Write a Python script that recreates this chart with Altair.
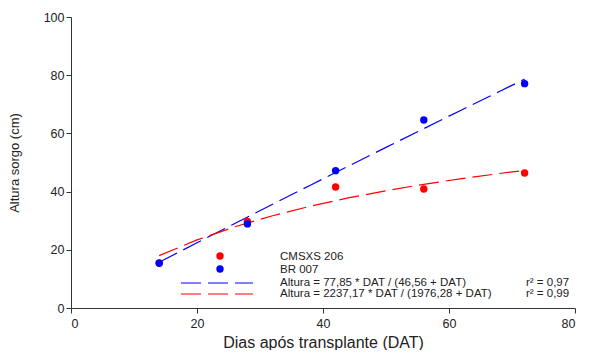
import altair as alt
import pandas as pd

# ---- data ----
dat = [14, 28, 42, 56, 72]
cmsxs206 = [15.5, 29.7, 41.6, 40.9, 46.4]
br007 = [15.4, 28.9, 47.2, 64.6, 77.1]

fit_dat = [14, 20, 26, 32, 38, 44, 50, 56, 62, 68, 72]
fit_blue = [15.74, 22.41, 29.05, 35.65, 42.21, 48.72, 55.20, 61.65, 68.05, 74.42, 78.64]
fit_red = [18.00, 23.39, 27.90, 31.71, 34.98, 37.83, 40.31, 42.51, 44.46, 46.21, 47.28]

series_names = ["CMSXS 206", "BR 007"]
eq_labels = [" Altura = 77,85 * DAT / (46,56 + DAT)", "Altura = 2237,17 * DAT / (1976,28 + DAT)"]
r2_labels = ["r² = 0,97", "r² = 0,99"]

x_ticks = [0, 20, 40, 60, 80]
y_ticks = [0, 20, 40, 60, 80, 100]

RED = "#ff0000"
BLUE = "#0000ff"
FONT = "Liberation Sans"
DASH = [20, 7]

pts_red = pd.DataFrame({"DAT": dat, "Altura": cmsxs206})
pts_blue = pd.DataFrame({"DAT": dat, "Altura": br007})
fit_b = pd.DataFrame({"DAT": fit_dat, "Altura": fit_blue})
fit_r = pd.DataFrame({"DAT": fit_dat, "Altura": fit_red})

xs = alt.Scale(domain=[0, 80], nice=False)
ys = alt.Scale(domain=[0, 100], nice=False)

x_axis = alt.Axis(values=x_ticks, grid=False, title="Dias após transplante (DAT)",
                  titleFontSize=16, titleFont=FONT, titleFontWeight="normal",
                  labelFont=FONT, labelFontSize=12.5, labelColor="#222",
                  domainColor="#333", tickColor="#333", tickSize=5, labelPadding=4,
                  titlePadding=5, titleColor="#222")
y_axis = alt.Axis(values=y_ticks, grid=False, title="Altura sorgo (cm)",
                  titleFontSize=13, titleFont=FONT, titleFontWeight="normal",
                  labelFont=FONT, labelFontSize=12.5, labelColor="#222",
                  domainColor="#333", tickColor="#333", tickSize=5, labelPadding=2,
                  titlePadding=22, titleColor="#222")

base_x = alt.X("DAT:Q", scale=xs, axis=x_axis)
base_y = alt.Y("Altura:Q", scale=ys, axis=y_axis)

line_b = alt.Chart(fit_b).mark_line(color=BLUE, strokeDash=DASH, strokeWidth=1.2).encode(x=base_x, y=base_y)
line_r = alt.Chart(fit_r).mark_line(color=RED, strokeDash=DASH, strokeWidth=1.2).encode(x="DAT:Q", y="Altura:Q")
p_red = alt.Chart(pts_red).mark_circle(color=RED, size=55, opacity=1).encode(x="DAT:Q", y="Altura:Q")
p_blue = alt.Chart(pts_blue).mark_circle(color=BLUE, size=55, opacity=1).encode(x="DAT:Q", y="Altura:Q")

# ---- in-plot legend ----
one = pd.DataFrame({"a": [0]})
leg_layers = []
dot_colors = [RED, BLUE]
dot_y = [239, 252]
for i in range(2):
    leg_layers.append(alt.Chart(one).mark_circle(color=dot_colors[i], size=55, opacity=1)
                      .encode(x=alt.value(149), y=alt.value(dot_y[i])))
    leg_layers.append(alt.Chart(pd.DataFrame({"t": [series_names[i]]}))
                      .mark_text(align="left", baseline="middle", font=FONT, fontSize=11.5, color="#222")
                      .encode(x=alt.value(209), y=alt.value(dot_y[i] + 1), text="t:N"))
line_colors = [BLUE, RED]
line_y = [266, 277]
for i in range(2):
    leg_layers.append(alt.Chart(one).mark_rule(color=line_colors[i], strokeDash=DASH, strokeWidth=1.2)
                      .encode(x=alt.value(110), x2=alt.value(182), y=alt.value(line_y[i])))
    leg_layers.append(alt.Chart(pd.DataFrame({"t": [eq_labels[i]]}))
                      .mark_text(align="left", baseline="middle", font=FONT, fontSize=11.5, color="#222")
                      .encode(x=alt.value(209), y=alt.value(line_y[i]), text="t:N"))
    leg_layers.append(alt.Chart(pd.DataFrame({"t": [r2_labels[i]]}))
                      .mark_text(align="left", baseline="middle", font=FONT, fontSize=11.5, color="#222")
                      .encode(x=alt.value(455), y=alt.value(line_y[i]), text="t:N"))

chart = alt.layer(line_b, line_r, p_red, p_blue, *leg_layers).properties(
    width=504, height=291,
    autosize=alt.AutoSizeParams(type="none"),
    padding={"left": 63, "top": 9, "right": 10, "bottom": 42},
    background="white",
).configure_view(stroke=None)

chart.save("out.html", embed_options={"renderer": "svg", "actions": False})
